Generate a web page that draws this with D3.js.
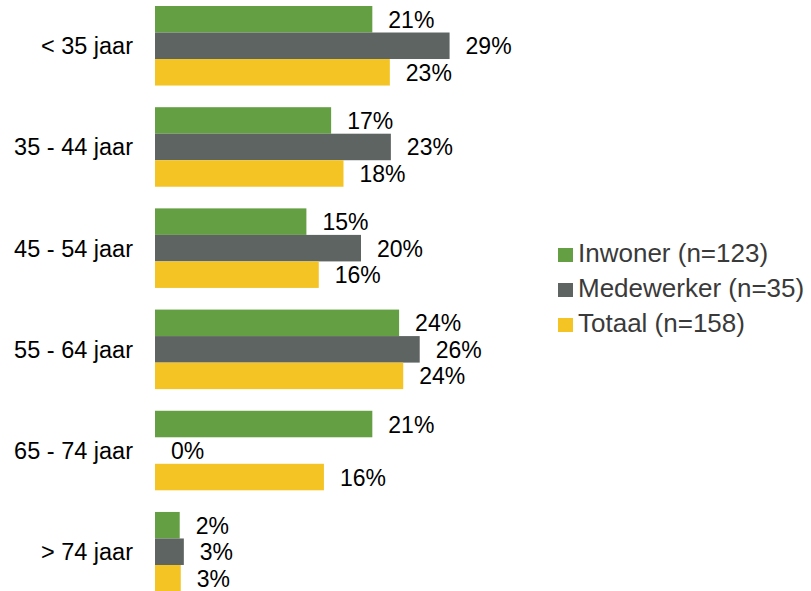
<!DOCTYPE html>
<html>
<head>
<meta charset="utf-8">
<script src="https://cdn.jsdelivr.net/npm/d3@7"></script>
<style>
  body { margin: 0; background: #fff; }
  text { font-family: "Liberation Sans", Arial, sans-serif; fill: #000; }
</style>
</head>
<body>
<div id="chart"></div>
<script>
let width = 811;
let height = 591;

// categories (age groups) and series
let categories = ["< 35 jaar", "35 - 44 jaar", "45 - 54 jaar", "55 - 64 jaar", "65 - 74 jaar", "> 74 jaar"];
let seriesNames = ["Inwoner (n=123)", "Medewerker (n=35)", "Totaal (n=158)"];
let seriesColors = ["#64a043", "#5d6461", "#f4c424"];

// percentages
let inwoner    = [21.1, 17.1, 14.7, 23.7, 21.1, 2.4];
let medewerker = [28.6, 22.9, 20.0, 25.7, 0.0, 2.8];
let totaal     = [22.8, 18.3, 15.9, 24.1, 16.4, 2.5];

let values = [inwoner, medewerker, totaal];

let svg = d3.select("#chart")
    .append("svg")
    .attr("width", width)
    .attr("height", height);

let x = d3.scaleLinear()
    .domain([0, 30])
    .range([155, 155 + 30 * 10.3]);

// one band per age group
let y0 = d3.scaleBand()
    .domain(categories)
    .range([6, 591.5])
    .paddingInner(0.214)
    .paddingOuter(0);

// bars inside a group
let y1 = d3.scaleBand()
    .domain(d3.range(seriesNames.length))
    .range([0, y0.bandwidth()]);

let groups = svg.selectAll(".group")
    .data(categories)
    .enter()
    .append("g")
    .attr("class", "group")
    .attr("transform", function(d) { return "translate(0," + y0(d) + ")"; });

groups.selectAll("rect")
    .data(function(d, i) { return values.map(function(v, s) { return {s: s, v: v[i]}; }); })
    .enter()
    .append("rect")
    .attr("x", x(0))
    .attr("y", function(d) { return y1(d.s); })
    .attr("width", function(d) { return x(d.v) - x(0); })
    .attr("height", y1.bandwidth())
    .attr("fill", function(d) { return seriesColors[d.s]; });

groups.selectAll(".val")
    .data(function(d, i) { return values.map(function(v, s) { return {s: s, v: v[i]}; }); })
    .enter()
    .append("text")
    .attr("class", "val")
    .attr("x", function(d) { return x(d.v) + 16; })
    .attr("y", function(d) { return y1(d.s) + y1.bandwidth() / 2 + 8.5; })
    .style("font-size", "23px")
    .text(function(d) { return Math.round(d.v) + "%"; });

// category labels on the left
let yAxis = d3.axisLeft(y0).tickSize(0).tickPadding(22);
let axisG = svg.append("g")
    .attr("transform", "translate(" + x(0) + ",0)")
    .call(yAxis);
axisG.select(".domain").remove();
axisG.selectAll("text")
    .style("font-size", "23.5px")
    .style("font-family", "'Liberation Sans', Arial, sans-serif")
    .attr("dy", "0.36em")
    .attr("fill", "#000");

// legend
let legend = svg.selectAll(".legend")
    .data(seriesNames)
    .enter()
    .append("g")
    .attr("class", "legend")
    .attr("transform", function(d, i) { return "translate(558," + (248 + i * 35) + ")"; });

legend.append("rect")
    .attr("width", 15)
    .attr("height", 14)
    .attr("fill", function(d, i) { return seriesColors[i]; });

legend.append("text")
    .attr("x", 20)
    .attr("y", 14)
    .style("font-size", "26px")
    .style("fill", "#3a3a3a")
    .text(function(d) { return d; });
</script>
</body>
</html>
